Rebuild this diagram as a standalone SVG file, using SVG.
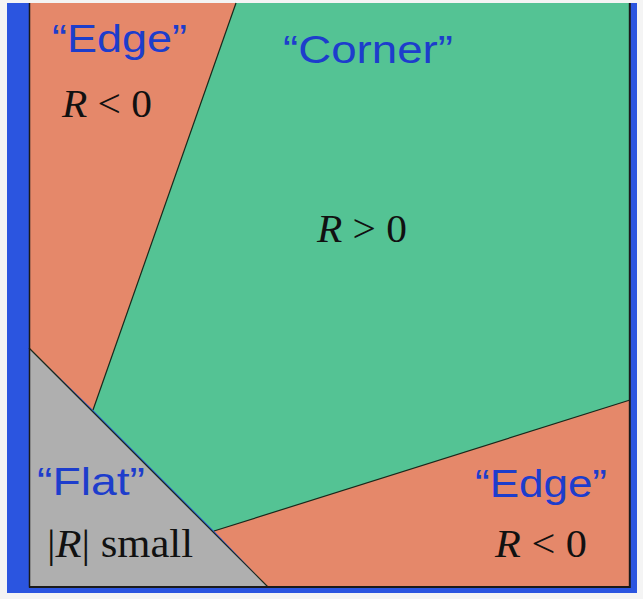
<svg xmlns="http://www.w3.org/2000/svg" width="643" height="599" viewBox="0 0 643 599">
<style>
.lbl{font-family:"Liberation Sans",Arial,sans-serif;font-size:38px;fill:#1d3dcc}
.math{font-family:"Liberation Serif","Times New Roman",serif;font-size:41px;fill:#111}
.it{font-style:italic}
.bd{stroke:#1a2a1a;stroke-width:1.2;fill:none}
</style>
<rect x="0" y="0" width="643" height="599" fill="#f4f4f4"/>
<rect x="7" y="3" width="630" height="590" fill="#2b55e0"/>
<g id="regions">
<polygon id="edge-top-left" points="29,3 236,3 93,410 29,348" fill="#e5886a"/>
<polygon id="corner" points="236,3 630,3 630,400 214,531 93,410" fill="#54c394"/>
<polygon id="edge-bottom-right" points="214,531 630,400 630,587 268,587" fill="#e5886a"/>
<polygon id="flat" points="29,348 268,587 29,587" fill="#afafaf"/>
</g>
<g id="boundaries">
<line class="bd" x1="236" y1="3" x2="93" y2="410"/>
<line class="bd" x1="29" y1="348" x2="268" y2="587"/>
<line class="bd" x1="214" y1="531" x2="630" y2="400"/>
<line x1="29.5" y1="3" x2="29.5" y2="587.5" stroke="#1a1a1a" stroke-width="1.5"/>
<line x1="29" y1="587" x2="630" y2="587" stroke="#1a1a1a" stroke-width="2"/>
<line x1="629.8" y1="3" x2="629.8" y2="588" stroke="#1a1a1a" stroke-width="2"/>
</g>
<g id="labels">
<text class="lbl" x="52" y="52" textLength="135" lengthAdjust="spacingAndGlyphs">“Edge”</text>
<text class="math" x="62" y="117" textLength="90" lengthAdjust="spacingAndGlyphs"><tspan class="it">R</tspan> &lt; 0</text>
<text class="lbl" x="283" y="63" textLength="170" lengthAdjust="spacingAndGlyphs">“Corner”</text>
<text class="math" x="317" y="242" textLength="90" lengthAdjust="spacingAndGlyphs"><tspan class="it">R</tspan> &gt; 0</text>
<text class="lbl" x="37" y="495" textLength="108" lengthAdjust="spacingAndGlyphs">“Flat”</text>
<text class="math" x="47" y="557" textLength="146" lengthAdjust="spacingAndGlyphs">|<tspan class="it">R</tspan>| small</text>
<text class="lbl" x="475" y="497" textLength="132" lengthAdjust="spacingAndGlyphs">“Edge”</text>
<text class="math" x="495" y="557" textLength="92" lengthAdjust="spacingAndGlyphs"><tspan class="it">R</tspan> &lt; 0</text>
</g>
</svg>
